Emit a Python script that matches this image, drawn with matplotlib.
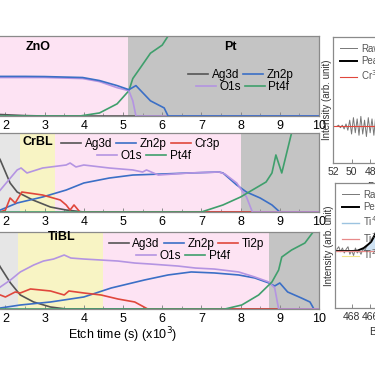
import numpy as np
import matplotlib
matplotlib.use('Agg')
import matplotlib.pyplot as plt

plt.rcParams['font.family'] = ['Liberation Sans', 'DejaVu Sans']
plt.rcParams['font.size'] = 9

# --- Colors ---
C_AG = '#555555'
C_ZN = '#3b6fc6'
C_O = '#b494e2'
C_CR = '#e0473c'
C_PT = '#3f9f6c'
PINK = '#fde3f3'
GRAY = '#c4c4c4'
LGRAY = '#e6e6e6'
YELLOW = '#f8f4c4'
SPINE = '#8a8a8a'

# ============================================================
# Data: depth profiles (etch time in 10^3 s, intensity arb. 0-100)
# ============================================================
# ZnO / Pt
zno_ag_t = [1.8, 2.5, 3.0, 10.0]
zno_ag = [2.0, 0.5, 0.0, 0.0]
zno_zn_t = [1.8, 2.5, 3.0, 3.97, 4.4, 4.85, 5.15, 5.33, 5.7, 6.05, 6.15, 10.0]
zno_zn = [49.5, 49.5, 49.3, 48.1, 44.3, 38.0, 32.9, 38.0, 19.0, 10.1, 0.0, 0.0]
zno_o_t = [1.8, 3.0, 3.97, 4.4, 4.85, 5.15, 5.25, 5.33, 10.0]
zno_o = [48.1, 48.1, 46.8, 43.0, 35.4, 31.6, 19.0, 0.0, 0.0]
zno_pt_t = [1.8, 3.9, 4.4, 4.85, 5.15, 5.25, 5.45, 5.7, 6.0, 6.15, 8.4, 8.8, 10.0]
zno_pt = [0.0, 0.0, 3.8, 15.2, 31.6, 46.8, 60.8, 78.5, 88.6, 100, 100, 125, 135]

# CrBL
cr_ag_t = [1.8, 1.87, 2.12, 2.3, 2.7, 3.15, 3.55, 4.0, 10.0]
cr_ag = [72.0, 65.8, 36.7, 25.3, 15.2, 6.3, 2.5, 0.0, 0.0]
cr_zn_t = [1.8, 1.87, 2.3, 2.95, 3.55, 4.0, 4.65, 5.25, 6.0, 6.7, 7.45, 7.55,
           7.9, 8.15, 8.5, 8.8, 9.0, 10.0]
cr_zn = [1.5, 2.5, 11.4, 19.0, 27.8, 36.7, 43.0, 46.8, 48.1, 49.4, 50.6, 49.4,
         34.2, 25.3, 17.7, 8.9, 0.0, 0.0]
cr_cr_t = [1.8, 1.87, 2.0, 2.12, 2.25, 2.42, 2.95, 3.4, 3.55, 3.65, 3.75, 3.9, 10.0]
cr_cr = [0.0, 0.0, 2.5, 17.7, 11.4, 25.3, 21.5, 15.2, 8.9, 2.5, 8.9, 0.0, 0.0]
cr_o_t = [1.8, 1.87, 2.3, 2.4, 2.55, 2.95, 3.55, 3.65, 3.8, 4.0, 4.65, 5.25, 5.5,
          5.6, 5.9, 6.7, 7.45, 7.6, 7.9, 8.15, 8.3, 10.0]
cr_o = [24.0, 27.8, 53.2, 55.7, 49.4, 55.7, 59.5, 62.0, 57.0, 59.5, 55.7, 53.2, 50.6,
        53.2, 46.8, 49.4, 50.6, 48.1, 36.7, 19.0, 0.0, 0.0]
cr_pt_t = [1.8, 7.0, 7.55, 8.0, 8.3, 8.65, 8.8, 8.9, 9.05, 9.15, 9.3, 9.5, 10.0]
cr_pt = [0.0, 0.0, 8.9, 19.0, 27.8, 38.0, 49.4, 72.2, 49.4, 69.6, 100, 130, 140]

# TiBL
ti_ag_t = [1.8, 1.87, 2.13, 2.38, 2.72, 3.15, 3.55, 10.0]
ti_ag = [61.0, 54.5, 33.8, 18.2, 9.1, 2.6, 0.0, 0.0]
ti_zn_t = [1.8, 1.87, 2.38, 3.15, 4.0, 4.7, 5.55, 6.15, 6.74, 7.33, 7.95, 8.36,
           8.72, 8.87, 9.0, 9.2, 9.55, 9.77, 9.87, 10.0]
ti_zn = [1.0, 1.3, 5.2, 9.1, 15.6, 27.3, 37.7, 44.2, 48.1, 46.8, 44.2, 40.3,
         33.8, 29.9, 33.8, 22.1, 14.3, 9.1, 0.0, 0.0]
ti_ti_t = [1.8, 1.87, 2.0, 2.25, 2.38, 2.64, 3.15, 3.5, 3.62, 4.0, 4.44, 4.87,
           5.3, 5.63, 10.0]
ti_ti = [19.0, 18.2, 15.6, 22.1, 20.8, 26.0, 23.4, 18.2, 23.4, 20.8, 18.2, 13.0,
         9.1, 0.0, 0.0]
ti_o_t = [1.8, 1.87, 2.13, 2.38, 2.72, 2.97, 3.23, 3.5, 3.67, 4.0, 4.44, 4.87,
          5.3, 5.7, 6.4, 6.85, 7.33, 7.95, 8.36, 8.72, 8.87, 8.97, 10.0]
ti_o = [26.0, 28.6, 37.7, 48.1, 57.1, 62.3, 64.9, 70.1, 66.2, 64.9, 63.6, 62.3,
        59.7, 58.4, 55.8, 53.2, 51.9, 48.1, 41.6, 35.1, 27.3, 0.0, 0.0]
ti_pt_t = [1.8, 7.6, 8.03, 8.46, 8.8, 8.97, 9.05, 9.3, 9.64, 9.85, 10.0]
ti_pt = [0.0, 0.0, 5.2, 18.2, 35.1, 50.6, 67.5, 76.6, 85.7, 100, 115]

# ============================================================
# Data: XPS insets (binding energy in eV)
# ============================================================
cr3p_e = [51.6, 51.4, 51.2, 51.0, 50.8, 50.6, 50.4, 50.2, 50.0, 49.8, 49.6, 49.4,
          49.2, 49.0, 48.8, 48.6, 48.4, 48.2, 48.0, 47.8, 47.6, 47.4, 47.2, 47.0,
          46.8, 46.6, 46.4, 46.2, 46.0]
cr3p_raw = [29, 30, 28, 30, 27, 31, 26, 34, 23, 36, 24, 35, 22, 37, 23, 34, 21,
            36, 24, 35, 22, 37, 25, 34, 23, 36, 26, 33, 24]
cr3p_fit_e = [52.0, 30.0]
cr3p_fit = [29.4, 29.4]

ti2p_e = [469.6, 469.4, 469.2, 469.0, 468.8, 468.6, 468.4, 468.2, 468.0, 467.8,
          467.6, 467.4, 467.2, 467.0, 466.8, 466.6, 466.4, 466.2, 466.0, 465.8,
          465.6, 465.4, 465.2, 465.0]
ti2p_raw = [47, 49, 45, 48, 44, 47, 49, 43, 46, 42, 48, 44, 46, 43, 47, 46, 49,
            51, 52, 56, 58, 61, 65, 70]
ti2p_peak_e = [470.0, 468.0, 467.4, 466.7, 466.2, 465.9, 465.6, 465.3, 465.0, 464.6]
ti2p_peak = [45.6, 45.6, 45.8, 48.0, 51.0, 53.0, 57.0, 62.0, 68.0, 76.0]
ti2p_base_e = [470.0, 440.0]
ti2p_base = [45.6, 45.6]

# ============================================================
# Layout (figure px 375 x 366, main axes run off the left edge)
# ============================================================
W, H = 375.0, 366.0
fig = plt.figure(figsize=(W / 100, H / 100), dpi=100)


def px_axes(x0, x1, y0, y1):
    return fig.add_axes([x0 / W, 1 - y1 / H, (x1 - x0) / W, (y1 - y0) / H])


def style_depth(ax):
    ax.set_xlim(0, 10)
    ax.set_ylim(0, 100)
    ax.set_xticks(range(0, 11))
    ax.set_xticks(np.arange(0, 10.01, 0.5), minor=True)
    ax.tick_params(axis='x', direction='in', length=3, width=0.7, color=SPINE,
                   labelsize=9, pad=3)
    ax.tick_params(axis='x', which='minor', direction='in', length=2, width=0.6, color=SPINE)
    ax.set_yticks([])
    for s in ax.spines.values():
        s.set_color(SPINE)
        s.set_linewidth(0.9)


def two_row_legend(ax, h, row1, row2, xy1, xy2):
    kw = dict(loc='center', frameon=False, fontsize=8.5, handlelength=1.7,
              handletextpad=0.3, columnspacing=0.35, borderpad=0, borderaxespad=0)
    leg1 = ax.legend([h[k] for k in row1], row1, ncol=len(row1), bbox_to_anchor=xy1, **kw)
    ax.add_artist(leg1)
    ax.legend([h[k] for k in row2], row2, ncol=len(row2), bbox_to_anchor=xy2, **kw)


lw = 1.2

# ---- ZnO / Pt ----
ax1 = px_axes(-73, 319, 36, 116)
ax1.axvspan(0, 5.12, color=PINK, lw=0)
ax1.axvspan(5.12, 10, color=GRAY, lw=0)
h = {}
h['Ag3d'], = ax1.plot(zno_ag_t, zno_ag, color=C_AG, lw=lw)
h['Zn2p'], = ax1.plot(zno_zn_t, zno_zn, color=C_ZN, lw=lw, zorder=3)
h['O1s'], = ax1.plot(zno_o_t, zno_o, color=C_O, lw=lw, zorder=2.5)
h['Pt4f'], = ax1.plot(zno_pt_t, zno_pt, color=C_PT, lw=lw)
style_depth(ax1)
ax1.text(0.283, 0.86, 'ZnO', transform=ax1.transAxes, ha='center', va='center',
         fontsize=9, fontweight='bold')
ax1.text(0.773, 0.86, 'Pt', transform=ax1.transAxes, ha='center', va='center',
         fontsize=9, fontweight='bold')
two_row_legend(ax1, h, ['Ag3d', 'Zn2p'], ['O1s', 'Pt4f'], (0.801, 0.51), (0.805, 0.36))

# ---- CrBL ----
ax2 = px_axes(-73, 319, 133, 212)
ax2.axvspan(0, 2.38, color=LGRAY, lw=0)
ax2.axvspan(2.38, 3.27, color=YELLOW, lw=0)
ax2.axvspan(3.27, 8.0, color=PINK, lw=0)
ax2.axvspan(8.0, 10, color=GRAY, lw=0)
h = {}
h['Ag3d'], = ax2.plot(cr_ag_t, cr_ag, color=C_AG, lw=lw)
h['Zn2p'], = ax2.plot(cr_zn_t, cr_zn, color=C_ZN, lw=lw)
h['Cr3p'], = ax2.plot(cr_cr_t, cr_cr, color=C_CR, lw=lw)
h['O1s'], = ax2.plot(cr_o_t, cr_o, color=C_O, lw=lw)
h['Pt4f'], = ax2.plot(cr_pt_t, cr_pt, color=C_PT, lw=lw)
style_depth(ax2)
ax2.text(0.283, 0.88, 'CrBL', transform=ax2.transAxes, ha='center', va='center',
         fontsize=9, fontweight='bold')
two_row_legend(ax2, h, ['Ag3d', 'Zn2p', 'Cr3p'], ['O1s', 'Pt4f'], (0.545, 0.86), (0.553, 0.71))

# ---- TiBL ----
ax3 = px_axes(-73, 319, 232, 309)
ax3.axvspan(0, 2.33, color=LGRAY, lw=0)
ax3.axvspan(2.33, 4.48, color=YELLOW, lw=0)
ax3.axvspan(4.48, 8.72, color=PINK, lw=0)
ax3.axvspan(8.72, 10, color=GRAY, lw=0)
h = {}
h['Ag3d'], = ax3.plot(ti_ag_t, ti_ag, color=C_AG, lw=lw)
h['Zn2p'], = ax3.plot(ti_zn_t, ti_zn, color=C_ZN, lw=lw)
h['Ti2p'], = ax3.plot(ti_ti_t, ti_ti, color=C_CR, lw=lw)
h['O1s'], = ax3.plot(ti_o_t, ti_o, color=C_O, lw=lw)
h['Pt4f'], = ax3.plot(ti_pt_t, ti_pt, color=C_PT, lw=lw)
style_depth(ax3)
ax3.text(0.344, 0.93, 'TiBL', transform=ax3.transAxes, ha='center', va='center',
         fontsize=9, fontweight='bold')
two_row_legend(ax3, h, ['Ag3d', 'Zn2p', 'Ti2p'], ['O1s', 'Pt4f'], (0.662, 0.84), (0.653, 0.685))
ax3.set_xlabel('Etch time (s) (x10$^3$)', fontsize=9, labelpad=0)

# ============================================================
# XPS insets on the right (cut off by the frame)
# ============================================================
def style_xps(ax, xlim, ticks):
    ax.set_xlim(*xlim)
    ax.set_ylim(0, 100)
    ax.set_xticks(ticks)
    ax.set_yticks([])
    ax.tick_params(axis='x', direction='in', length=3, width=0.7, color=SPINE,
                   labelsize=7.5, labelcolor='#333333', pad=3)
    for s in ax.spines.values():
        s.set_color(SPINE)
        s.set_linewidth(0.9)
    ax.set_ylabel('Intensity (arb. unit)', fontsize=7, color='#333333', labelpad=1)
    ax.set_xlabel('Binding Energy (eV)', fontsize=7.5, color='#333333', va='top')
    ax.xaxis.set_label_coords(0.45, -0.15)


leg_kw = dict(loc='upper left', frameon=False, fontsize=7, handlelength=1.8,
              handletextpad=0.4, labelspacing=0.25, borderpad=0.2,
              labelcolor='#555555')

# 9.3 px per eV, axes 182 px wide
ax4 = px_axes(333, 515, 37, 163)
ax4.plot(cr3p_e, cr3p_raw, color='#777777', lw=0.7, label='Raw')
ax4.plot([], [], color='black', lw=1.4, label='Peak')
ax4.plot(cr3p_fit_e, cr3p_fit, color=C_CR, lw=0.8, label='Cr$^{3+}$')
style_xps(ax4, (52, 32.4), [52, 50, 48, 46, 44, 42, 40, 38, 36, 34])
ax4.legend(**leg_kw)

ax5 = px_axes(335, 517, 183, 308)
ax5.fill_between(ti2p_peak_e, ti2p_base[0], ti2p_peak, color='#cfe2f3', lw=0)
ax5.plot(ti2p_e, ti2p_raw, color='#777777', lw=0.7, label='Raw')
ax5.plot(ti2p_peak_e, ti2p_peak, color='black', lw=1.4, label='Peak')
ax5.plot([], [], color='#9cc3e0', lw=1.0, label='Ti$^{4+}$')
ax5.plot(ti2p_base_e, ti2p_base, color='#f2e68a', lw=0.8, label='Ti$^{2+}$')
ax5.plot(ti2p_base_e, ti2p_base, color='#e88a8a', lw=0.9, label='Ti$^{3+}$')
handles, labels = ax5.get_legend_handles_labels()
order = [0, 1, 2, 4, 3]
ax5.legend([handles[i] for i in order], [labels[i] for i in order], **leg_kw)
style_xps(ax5, (469.8, 450.2), [468, 466, 464, 462, 460, 458, 456, 454, 452])

fig.savefig('out.png', dpi=100)
